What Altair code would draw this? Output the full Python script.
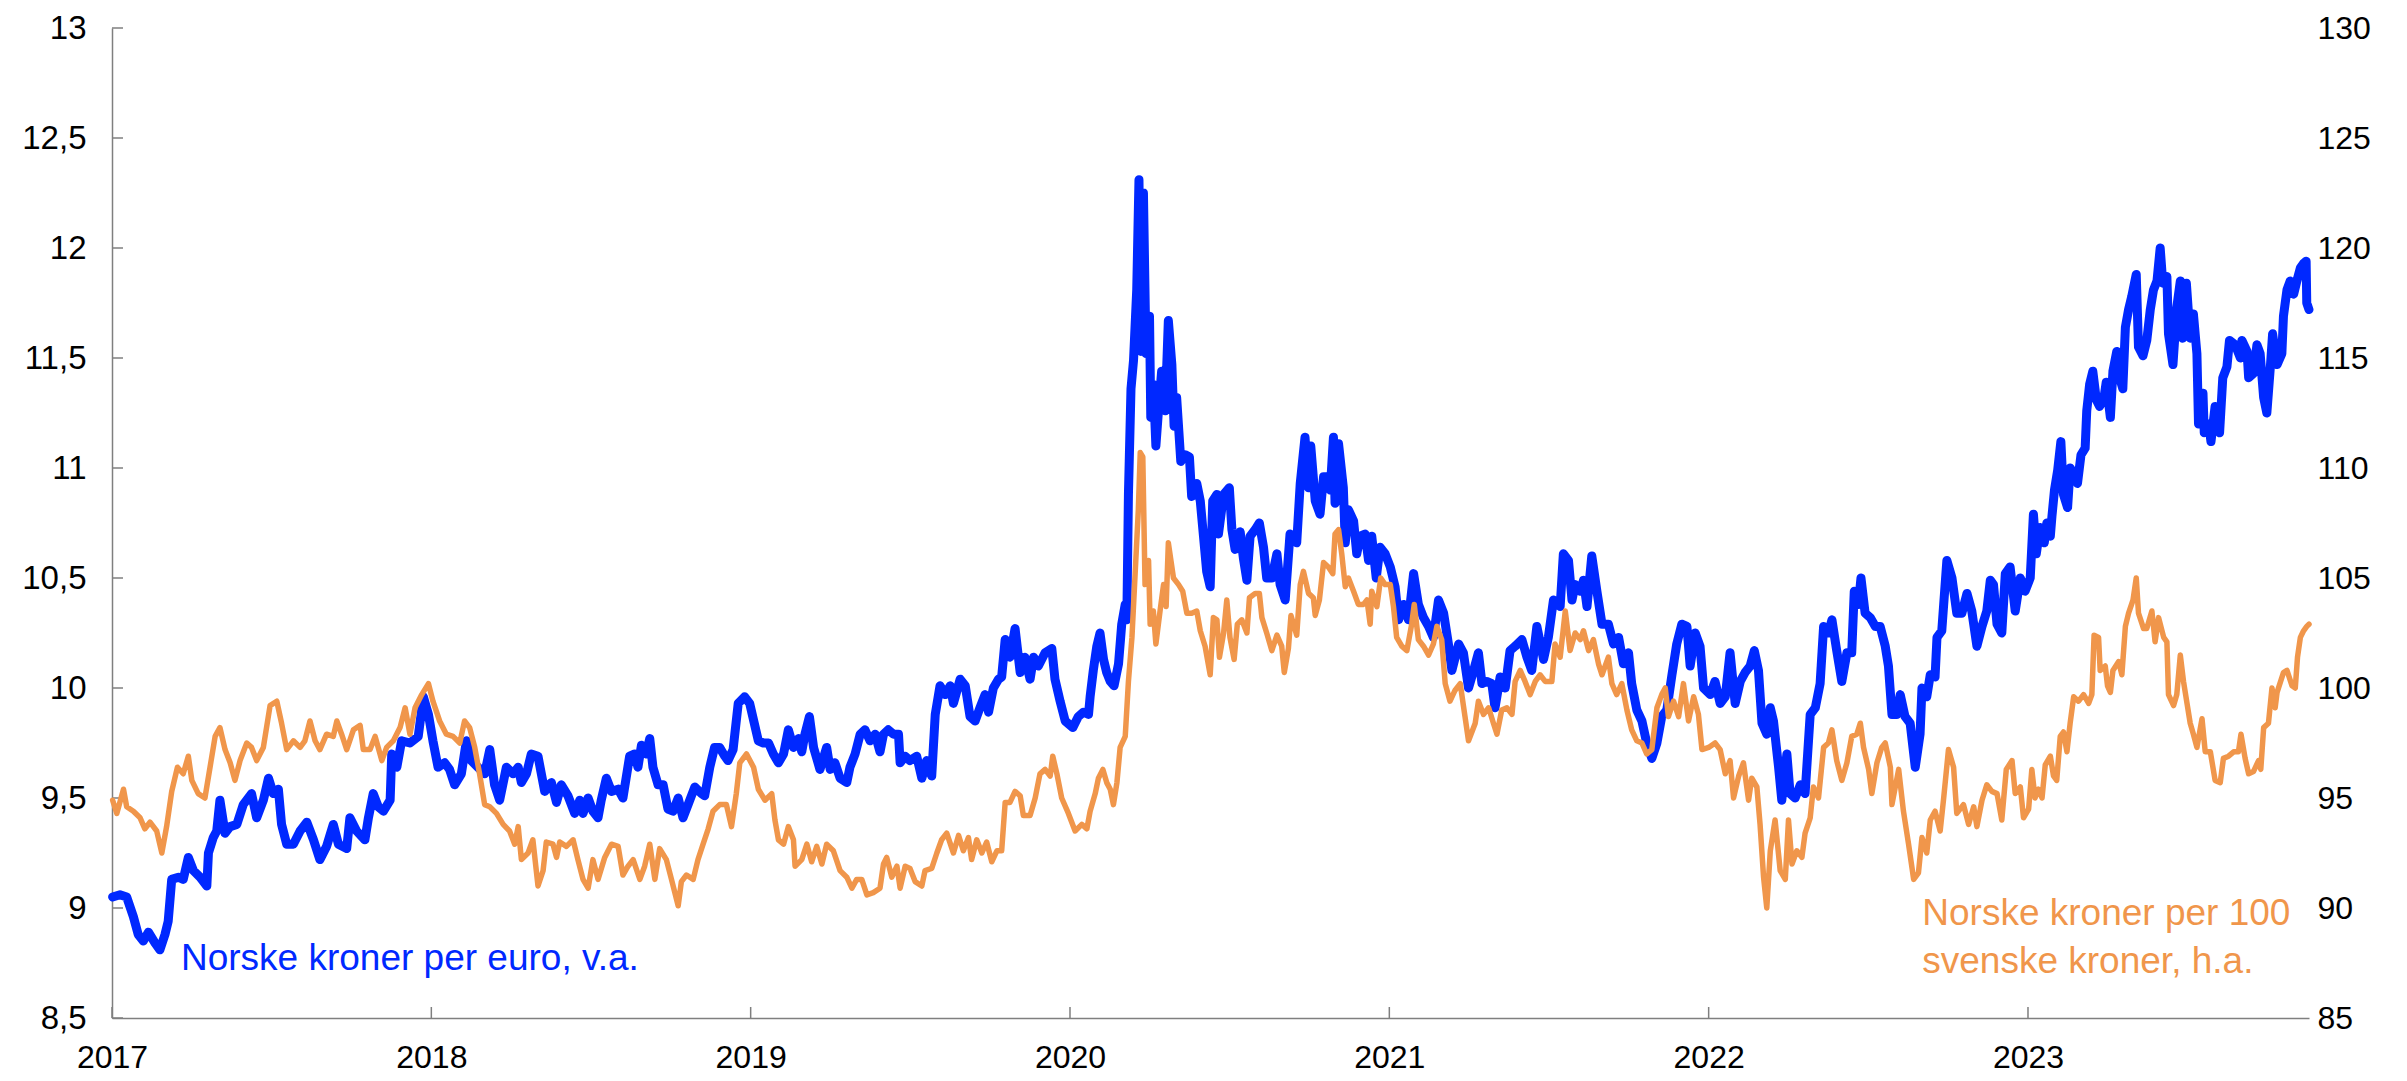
import altair as alt
import pandas as pd

# Norske kroner per euro (venstre akse) - decimal year / value
eur_t = [2017.002, 2017.025, 2017.046, 2017.067, 2017.082, 2017.098, 2017.114, 2017.135, 2017.150, 2017.166, 2017.176, 2017.187, 2017.208, 2017.223, 2017.239, 2017.255, 2017.276, 2017.297, 2017.302, 2017.317, 2017.328, 2017.338, 2017.354, 2017.370, 2017.391, 2017.411, 2017.437, 2017.453, 2017.474, 2017.490, 2017.505, 2017.521, 2017.531, 2017.547, 2017.568, 2017.589, 2017.610, 2017.631, 2017.651, 2017.672, 2017.693, 2017.709, 2017.735, 2017.745, 2017.766, 2017.792, 2017.803, 2017.818, 2017.834, 2017.850, 2017.871, 2017.876, 2017.892, 2017.907, 2017.933, 2017.959, 2017.975, 2017.991,
         2018.005, 2018.021, 2018.042, 2018.057, 2018.073, 2018.094, 2018.110, 2018.125, 2018.146, 2018.167, 2018.183, 2018.198, 2018.214, 2018.235, 2018.256, 2018.272, 2018.282, 2018.298, 2018.313, 2018.334, 2018.355, 2018.376, 2018.392, 2018.407, 2018.428, 2018.449, 2018.465, 2018.475, 2018.491, 2018.506, 2018.522, 2018.532, 2018.548, 2018.564, 2018.585, 2018.600, 2018.621, 2018.637, 2018.647, 2018.658, 2018.673, 2018.684, 2018.694, 2018.710, 2018.726, 2018.741, 2018.757, 2018.773, 2018.788, 2018.804, 2018.825, 2018.846, 2018.856, 2018.872, 2018.887, 2018.903, 2018.919, 2018.929, 2018.945, 2018.961, 2018.981, 2018.997,
         2019.024, 2019.040, 2019.056, 2019.071, 2019.087, 2019.103, 2019.118, 2019.134, 2019.150, 2019.160, 2019.170, 2019.184, 2019.197, 2019.217, 2019.238, 2019.249, 2019.264, 2019.280, 2019.301, 2019.311, 2019.327, 2019.343, 2019.358, 2019.374, 2019.390, 2019.405, 2019.416, 2019.431, 2019.447, 2019.463, 2019.468, 2019.484, 2019.499, 2019.520, 2019.536, 2019.551, 2019.567, 2019.578, 2019.593, 2019.609, 2019.625, 2019.635, 2019.656, 2019.672, 2019.687, 2019.703, 2019.718, 2019.734, 2019.745, 2019.760, 2019.776, 2019.786, 2019.797, 2019.812, 2019.828, 2019.844, 2019.859, 2019.875, 2019.886, 2019.901, 2019.922, 2019.943, 2019.953, 2019.969, 2019.985,
         2020.009, 2020.026, 2020.042, 2020.058, 2020.063, 2020.073, 2020.084, 2020.094, 2020.105, 2020.115, 2020.126, 2020.138, 2020.152, 2020.162, 2020.173, 2020.178, 2020.183, 2020.191, 2020.199, 2020.209, 2020.216, 2020.222, 2020.230, 2020.238, 2020.249, 2020.253, 2020.261, 2020.269, 2020.277, 2020.287, 2020.298, 2020.308, 2020.319, 2020.326, 2020.334, 2020.347, 2020.361, 2020.374, 2020.381, 2020.397, 2020.408, 2020.418, 2020.428, 2020.439, 2020.447, 2020.460, 2020.465, 2020.481, 2020.499, 2020.507, 2020.517, 2020.533, 2020.543, 2020.554, 2020.564, 2020.580, 2020.593, 2020.606, 2020.616, 2020.632, 2020.648, 2020.658, 2020.674, 2020.689, 2020.710, 2020.721, 2020.736, 2020.747, 2020.754, 2020.768, 2020.783, 2020.794, 2020.804, 2020.815, 2020.825, 2020.830, 2020.841, 2020.856, 2020.862, 2020.872, 2020.888, 2020.898, 2020.909, 2020.924, 2020.935, 2020.945, 2020.959, 2020.971, 2020.987, 2021.003,
         2021.018, 2021.029, 2021.044, 2021.060, 2021.076, 2021.091, 2021.107, 2021.123, 2021.138, 2021.154, 2021.170, 2021.185, 2021.196, 2021.217, 2021.232, 2021.248, 2021.264, 2021.279, 2021.290, 2021.305, 2021.321, 2021.331, 2021.347, 2021.363, 2021.378, 2021.394, 2021.415, 2021.431, 2021.446, 2021.462, 2021.483, 2021.498, 2021.514, 2021.535, 2021.545, 2021.561, 2021.572, 2021.582, 2021.598, 2021.608, 2021.619, 2021.634, 2021.650, 2021.666, 2021.686, 2021.702, 2021.718, 2021.733, 2021.749, 2021.759, 2021.775, 2021.791, 2021.806, 2021.822, 2021.838, 2021.853, 2021.869, 2021.885, 2021.900, 2021.916, 2021.932, 2021.942, 2021.958, 2021.973, 2021.984, 2022.005,
         2022.020, 2022.036, 2022.052, 2022.067, 2022.083, 2022.099, 2022.114, 2022.130, 2022.143, 2022.156, 2022.167, 2022.182, 2022.193, 2022.203, 2022.219, 2022.229, 2022.245, 2022.255, 2022.271, 2022.287, 2022.302, 2022.318, 2022.334, 2022.349, 2022.360, 2022.375, 2022.386, 2022.401, 2022.417, 2022.433, 2022.448, 2022.456, 2022.469, 2022.477, 2022.490, 2022.506, 2022.522, 2022.537, 2022.553, 2022.563, 2022.574, 2022.589, 2022.600, 2022.615, 2022.631, 2022.647, 2022.662, 2022.668, 2022.683, 2022.694, 2022.709, 2022.715, 2022.730, 2022.746, 2022.762, 2022.777, 2022.793, 2022.809, 2022.824, 2022.840, 2022.856, 2022.871, 2022.882, 2022.892, 2022.903, 2022.918, 2022.929, 2022.944, 2022.960, 2022.976, 2022.991, 2023.007, 2023.017,
         2023.026, 2023.038, 2023.051, 2023.059, 2023.070, 2023.075, 2023.083, 2023.093, 2023.103, 2023.111, 2023.124, 2023.132, 2023.145, 2023.155, 2023.166, 2023.179, 2023.184, 2023.193, 2023.203, 2023.214, 2023.224, 2023.237, 2023.245, 2023.258, 2023.266, 2023.278, 2023.289, 2023.297, 2023.305, 2023.315, 2023.325, 2023.339, 2023.346, 2023.360, 2023.372, 2023.383, 2023.393, 2023.404, 2023.414, 2023.422, 2023.435, 2023.440, 2023.454, 2023.466, 2023.477, 2023.484, 2023.496, 2023.508, 2023.518, 2023.529, 2023.534, 2023.548, 2023.552, 2023.566, 2023.573, 2023.586, 2023.600, 2023.610, 2023.623, 2023.631, 2023.649, 2023.665, 2023.670, 2023.686, 2023.691, 2023.706, 2023.717, 2023.727, 2023.738, 2023.748, 2023.759, 2023.766, 2023.780, 2023.795, 2023.800, 2023.811, 2023.821, 2023.832, 2023.842, 2023.853, 2023.863, 2023.871, 2023.873, 2023.880]
eur_v = [9.05, 9.06, 9.05, 8.96, 8.88, 8.85, 8.89, 8.84, 8.81, 8.88, 8.94, 9.13, 9.14, 9.13, 9.23, 9.17, 9.14, 9.10, 9.25, 9.32, 9.35, 9.49, 9.34, 9.37, 9.38, 9.47, 9.52, 9.41, 9.49, 9.59, 9.52, 9.54, 9.38, 9.29, 9.29, 9.35, 9.39, 9.31, 9.22, 9.28, 9.38, 9.29, 9.27, 9.41, 9.35, 9.31, 9.41, 9.52, 9.46, 9.44, 9.49, 9.70, 9.64, 9.76, 9.75, 9.78, 9.96, 9.88,
         9.76, 9.64, 9.66, 9.63, 9.56, 9.61, 9.76, 9.67, 9.64, 9.61, 9.72, 9.56, 9.49, 9.64, 9.61, 9.64, 9.57, 9.61, 9.70, 9.69, 9.53, 9.57, 9.48, 9.56, 9.51, 9.43, 9.49, 9.43, 9.50, 9.44, 9.41, 9.49, 9.59, 9.53, 9.54, 9.50, 9.69, 9.70, 9.64, 9.74, 9.70, 9.77, 9.64, 9.56, 9.56, 9.45, 9.44, 9.50, 9.41, 9.47, 9.55, 9.52, 9.51, 9.64, 9.73, 9.73, 9.69, 9.67, 9.72, 9.93, 9.96, 9.93,
         9.76, 9.75, 9.75, 9.70, 9.66, 9.70, 9.81, 9.73, 9.77, 9.71, 9.79, 9.87, 9.73, 9.63, 9.73, 9.63, 9.66, 9.59, 9.57, 9.64, 9.70, 9.79, 9.81, 9.76, 9.79, 9.71, 9.79, 9.81, 9.79, 9.79, 9.66, 9.69, 9.67, 9.69, 9.59, 9.67, 9.60, 9.88, 10.01, 9.97, 10.01, 9.93, 10.04, 10.01, 9.87, 9.85, 9.91, 9.97, 9.89, 10.00, 10.04, 10.05, 10.22, 10.14, 10.27, 10.07, 10.14, 10.04, 10.14, 10.10, 10.16, 10.18, 10.04, 9.94, 9.85,
         9.82, 9.87, 9.89, 9.88, 9.96, 10.08, 10.19, 10.25, 10.13, 10.07, 10.03, 10.01, 10.11, 10.29, 10.38, 10.31, 10.88, 11.36, 11.49, 11.81, 12.31, 11.53, 12.25, 11.52, 11.69, 11.23, 11.38, 11.10, 11.26, 11.44, 11.26, 11.67, 11.47, 11.19, 11.32, 11.03, 11.06, 11.05, 10.87, 10.93, 10.85, 10.69, 10.53, 10.46, 10.85, 10.88, 10.70, 10.88, 10.91, 10.72, 10.63, 10.71, 10.59, 10.49, 10.69, 10.72, 10.75, 10.64, 10.50, 10.50, 10.61, 10.47, 10.40, 10.70, 10.66, 10.93, 11.14, 10.91, 11.10, 10.85, 10.79, 10.96, 10.96, 10.90, 11.14, 10.84, 11.11, 10.91, 10.66, 10.81, 10.76, 10.61, 10.69, 10.70, 10.58, 10.69, 10.50, 10.64, 10.61, 10.55,
         10.46, 10.31, 10.38, 10.31, 10.52, 10.38, 10.32, 10.28, 10.23, 10.40, 10.34, 10.20, 10.08, 10.20, 10.16, 10.00, 10.08, 10.16, 10.02, 10.03, 10.02, 9.91, 10.05, 10.00, 10.17, 10.19, 10.22, 10.14, 10.08, 10.28, 10.13, 10.23, 10.40, 10.37, 10.61, 10.58, 10.40, 10.47, 10.44, 10.49, 10.37, 10.60, 10.44, 10.29, 10.29, 10.20, 10.23, 10.11, 10.16, 10.02, 9.90, 9.85, 9.75, 9.68, 9.75, 9.87, 9.90, 10.06, 10.20, 10.29, 10.28, 10.10, 10.25, 10.19, 10.00, 9.97,
         10.03, 9.93, 9.96, 10.16, 9.93, 10.03, 10.07, 10.10, 10.17, 10.08, 9.84, 9.79, 9.91, 9.85, 9.64, 9.49, 9.70, 9.52, 9.50, 9.56, 9.52, 9.88, 9.91, 10.02, 10.28, 10.25, 10.31, 10.17, 10.03, 10.16, 10.16, 10.44, 10.38, 10.50, 10.34, 10.32, 10.28, 10.28, 10.19, 10.10, 9.88, 9.88, 9.97, 9.87, 9.84, 9.64, 9.79, 10.00, 9.96, 10.06, 10.05, 10.23, 10.26, 10.58, 10.50, 10.34, 10.34, 10.43, 10.35, 10.19, 10.28, 10.35, 10.49, 10.47, 10.29, 10.25, 10.52, 10.55, 10.35, 10.50, 10.44, 10.50, 10.79,
         10.61, 10.73, 10.66, 10.75, 10.69, 10.78, 10.90, 10.99, 11.12, 10.88, 10.82, 11.00, 10.97, 10.93, 11.06, 11.09, 11.26, 11.38, 11.44, 11.31, 11.28, 11.31, 11.39, 11.23, 11.44, 11.53, 11.40, 11.36, 11.64, 11.72, 11.78, 11.88, 11.55, 11.51, 11.58, 11.72, 11.81, 11.85, 12.00, 11.84, 11.87, 11.61, 11.47, 11.73, 11.85, 11.59, 11.84, 11.59, 11.70, 11.52, 11.20, 11.34, 11.16, 11.20, 11.12, 11.28, 11.16, 11.41, 11.46, 11.58, 11.56, 11.50, 11.58, 11.53, 11.41, 11.43, 11.56, 11.52, 11.32, 11.25, 11.46, 11.61, 11.47, 11.52, 11.69, 11.81, 11.85, 11.79, 11.85, 11.91, 11.93, 11.94, 11.75, 11.72]

# Norske kroner per 100 svenske kroner (hoyre akse)
sek_t = [2017.002, 2017.015, 2017.036, 2017.046, 2017.067, 2017.088, 2017.103, 2017.119, 2017.140, 2017.156, 2017.171, 2017.187, 2017.205, 2017.223, 2017.239, 2017.250, 2017.270, 2017.291, 2017.307, 2017.323, 2017.338, 2017.354, 2017.370, 2017.385, 2017.401, 2017.422, 2017.437, 2017.453, 2017.474, 2017.495, 2017.516, 2017.531, 2017.547, 2017.568, 2017.589, 2017.604, 2017.620, 2017.636, 2017.651, 2017.672, 2017.693, 2017.704, 2017.719, 2017.735, 2017.756, 2017.777, 2017.787, 2017.808, 2017.824, 2017.845, 2017.860, 2017.881, 2017.902, 2017.918, 2017.933, 2017.949, 2017.970, 2017.991,
         2018.005, 2018.026, 2018.047, 2018.068, 2018.089, 2018.104, 2018.120, 2018.136, 2018.151, 2018.167, 2018.183, 2018.204, 2018.225, 2018.245, 2018.261, 2018.272, 2018.282, 2018.303, 2018.318, 2018.334, 2018.350, 2018.360, 2018.381, 2018.392, 2018.402, 2018.423, 2018.444, 2018.459, 2018.475, 2018.491, 2018.506, 2018.522, 2018.543, 2018.564, 2018.585, 2018.600, 2018.616, 2018.632, 2018.653, 2018.668, 2018.684, 2018.700, 2018.715, 2018.736, 2018.752, 2018.773, 2018.783, 2018.799, 2018.820, 2018.835, 2018.851, 2018.867, 2018.882, 2018.903, 2018.924, 2018.940, 2018.955, 2018.966, 2018.987,
         2019.009, 2019.024, 2019.045, 2019.066, 2019.076, 2019.087, 2019.103, 2019.118, 2019.134, 2019.139, 2019.160, 2019.176, 2019.191, 2019.207, 2019.223, 2019.238, 2019.259, 2019.280, 2019.301, 2019.317, 2019.332, 2019.348, 2019.364, 2019.384, 2019.405, 2019.416, 2019.426, 2019.442, 2019.458, 2019.468, 2019.484, 2019.499, 2019.515, 2019.536, 2019.546, 2019.567, 2019.583, 2019.598, 2019.614, 2019.635, 2019.651, 2019.666, 2019.682, 2019.692, 2019.708, 2019.724, 2019.739, 2019.755, 2019.771, 2019.786, 2019.797, 2019.812, 2019.828, 2019.844, 2019.854, 2019.875, 2019.891, 2019.906, 2019.922, 2019.938, 2019.946, 2019.959, 2019.974, 2019.995,
         2020.016, 2020.037, 2020.053, 2020.063, 2020.079, 2020.089, 2020.103, 2020.115, 2020.126, 2020.136, 2020.147, 2020.157, 2020.173, 2020.183, 2020.194, 2020.204, 2020.214, 2020.220, 2020.228, 2020.235, 2020.246, 2020.251, 2020.261, 2020.269, 2020.282, 2020.293, 2020.301, 2020.308, 2020.324, 2020.340, 2020.353, 2020.366, 2020.381, 2020.397, 2020.408, 2020.423, 2020.439, 2020.449, 2020.460, 2020.468, 2020.481, 2020.491, 2020.501, 2020.514, 2020.524, 2020.538, 2020.554, 2020.562, 2020.580, 2020.593, 2020.601, 2020.616, 2020.632, 2020.648, 2020.663, 2020.671, 2020.684, 2020.692, 2020.710, 2020.721, 2020.731, 2020.747, 2020.762, 2020.768, 2020.781, 2020.794, 2020.809, 2020.823, 2020.830, 2020.841, 2020.851, 2020.862, 2020.872, 2020.888, 2020.903, 2020.919, 2020.930, 2020.940, 2020.945, 2020.961, 2020.973, 2020.987, 2021.003,
         2021.013, 2021.023, 2021.039, 2021.055, 2021.070, 2021.078, 2021.091, 2021.107, 2021.123, 2021.138, 2021.149, 2021.164, 2021.175, 2021.190, 2021.206, 2021.222, 2021.237, 2021.248, 2021.269, 2021.279, 2021.295, 2021.311, 2021.326, 2021.337, 2021.352, 2021.368, 2021.384, 2021.394, 2021.410, 2021.425, 2021.441, 2021.457, 2021.472, 2021.488, 2021.509, 2021.519, 2021.535, 2021.551, 2021.566, 2021.582, 2021.598, 2021.608, 2021.624, 2021.639, 2021.655, 2021.666, 2021.686, 2021.697, 2021.712, 2021.728, 2021.744, 2021.759, 2021.775, 2021.791, 2021.806, 2021.822, 2021.838, 2021.853, 2021.864, 2021.874, 2021.890, 2021.906, 2021.921, 2021.937, 2021.953, 2021.968, 2021.979, 2022.000,
         2022.020, 2022.036, 2022.052, 2022.067, 2022.078, 2022.094, 2022.109, 2022.125, 2022.135, 2022.151, 2022.161, 2022.172, 2022.182, 2022.193, 2022.208, 2022.224, 2022.240, 2022.250, 2022.261, 2022.276, 2022.292, 2022.302, 2022.318, 2022.328, 2022.344, 2022.360, 2022.375, 2022.386, 2022.401, 2022.417, 2022.433, 2022.448, 2022.464, 2022.475, 2022.485, 2022.501, 2022.511, 2022.527, 2022.542, 2022.553, 2022.569, 2022.574, 2022.595, 2022.610, 2022.626, 2022.642, 2022.657, 2022.668, 2022.683, 2022.694, 2022.709, 2022.725, 2022.736, 2022.751, 2022.767, 2022.777, 2022.798, 2022.814, 2022.830, 2022.840, 2022.856, 2022.871, 2022.887, 2022.903, 2022.918, 2022.932, 2022.950, 2022.960, 2022.976, 2022.986, 2023.002,
         2023.012, 2023.022, 2023.033, 2023.044, 2023.054, 2023.070, 2023.080, 2023.090, 2023.101, 2023.111, 2023.122, 2023.132, 2023.143, 2023.158, 2023.174, 2023.190, 2023.200, 2023.207, 2023.221, 2023.226, 2023.242, 2023.249, 2023.258, 2023.266, 2023.284, 2023.294, 2023.305, 2023.315, 2023.329, 2023.339, 2023.346, 2023.362, 2023.372, 2023.388, 2023.398, 2023.409, 2023.425, 2023.435, 2023.440, 2023.456, 2023.466, 2023.477, 2023.487, 2023.498, 2023.508, 2023.518, 2023.529, 2023.545, 2023.555, 2023.571, 2023.586, 2023.602, 2023.612, 2023.628, 2023.644, 2023.659, 2023.667, 2023.680, 2023.691, 2023.706, 2023.722, 2023.729, 2023.738, 2023.753, 2023.764, 2023.774, 2023.780, 2023.800, 2023.811, 2023.827, 2023.837, 2023.844, 2023.853, 2023.863, 2023.873, 2023.880]
sek_v = [94.9, 94.3, 95.4, 94.6, 94.4, 94.1, 93.6, 93.9, 93.5, 92.5, 93.7, 95.3, 96.4, 96.1, 96.9, 95.8, 95.2, 95.0, 96.4, 97.8, 98.2, 97.2, 96.6, 95.8, 96.7, 97.5, 97.3, 96.7, 97.3, 99.2, 99.4, 98.4, 97.2, 97.6, 97.3, 97.6, 98.5, 97.6, 97.2, 97.9, 97.8, 98.5, 97.9, 97.2, 98.1, 98.3, 97.2, 97.2, 97.8, 96.7, 97.3, 97.6, 98.2, 99.1, 97.9, 99.1, 99.7, 100.2,
         99.4, 98.5, 97.9, 97.8, 97.5, 98.5, 98.2, 97.3, 96.1, 94.7, 94.6, 94.3, 93.8, 93.5, 92.9, 93.7, 92.2, 92.5, 93.1, 91.0, 91.7, 93.0, 92.9, 92.3, 93.0, 92.8, 93.1, 92.2, 91.3, 90.9, 92.2, 91.3, 92.3, 92.9, 92.8, 91.5, 91.9, 92.2, 91.3, 91.9, 92.9, 91.3, 92.7, 92.2, 91.3, 90.1, 91.2, 91.5, 91.3, 92.2, 92.9, 93.6, 94.4, 94.7, 94.7, 93.7, 95.2, 96.6, 97.0,
         96.4, 95.4, 94.9, 95.2, 94.0, 93.1, 92.9, 93.7, 93.1, 91.9, 92.2, 92.9, 92.1, 92.8, 92.0, 92.9, 92.6, 91.7, 91.4, 90.9, 91.3, 91.3, 90.6, 90.7, 90.9, 92.0, 92.3, 91.4, 91.9, 90.9, 91.9, 91.8, 91.2, 91.0, 91.7, 91.8, 92.5, 93.1, 93.4, 92.5, 93.3, 92.6, 93.2, 92.2, 93.1, 92.5, 93.0, 92.1, 92.6, 92.6, 94.8, 94.8, 95.3, 95.1, 94.2, 94.2, 95.0, 96.1, 96.3, 96.0, 96.9, 96.1, 95.0, 94.3,
         93.5, 93.8, 93.6, 94.4, 95.2, 95.9, 96.3, 95.7, 95.4, 94.7, 95.7, 97.3, 97.8, 100.3, 102.3, 105.2, 108.1, 110.7, 110.5, 104.7, 105.8, 102.9, 103.5, 102.0, 103.5, 104.7, 103.7, 106.6, 105.0, 104.7, 104.4, 103.4, 103.4, 103.5, 102.6, 101.9, 100.6, 103.2, 103.1, 101.4, 102.5, 104.0, 102.3, 101.3, 102.9, 103.1, 102.5, 104.1, 104.3, 104.3, 103.2, 102.5, 101.7, 102.4, 101.9, 100.7, 101.8, 103.3, 102.4, 104.7, 105.3, 104.3, 104.1, 103.3, 104.0, 105.7, 105.5, 105.2, 107.0, 107.2, 106.1, 104.6, 105.0, 104.4, 103.8, 103.8, 104.0, 102.9, 104.4, 103.7, 105.0, 104.7, 104.7,
         103.7, 102.3, 101.9, 101.7, 102.9, 103.8, 102.2, 101.9, 101.5, 102.0, 102.8, 102.2, 100.2, 99.4, 99.9, 100.2, 98.7, 97.6, 98.4, 99.4, 98.8, 99.1, 98.4, 97.9, 99.0, 99.1, 98.8, 100.3, 100.8, 100.3, 99.7, 100.3, 100.6, 100.3, 100.3, 102.0, 101.4, 103.5, 101.7, 102.5, 102.2, 102.6, 101.7, 102.2, 101.1, 100.6, 101.4, 100.2, 99.7, 100.2, 99.0, 98.1, 97.6, 97.5, 97.0, 97.2, 99.1, 99.7, 100.0, 98.7, 99.4, 98.7, 100.2, 98.5, 99.6, 98.8, 97.2, 97.3,
         97.5, 97.2, 96.1, 96.7, 95.0, 96.0, 96.6, 94.9, 95.9, 95.5, 93.8, 91.4, 90.0, 92.6, 94.0, 91.7, 91.3, 94.0, 92.0, 92.6, 92.3, 93.4, 94.1, 95.5, 95.0, 97.3, 97.5, 98.1, 96.7, 95.8, 96.6, 97.8, 97.9, 98.4, 97.3, 96.3, 95.2, 96.6, 97.3, 97.5, 96.4, 94.7, 96.3, 94.4, 92.9, 91.3, 91.6, 93.2, 92.5, 94.0, 94.4, 93.5, 95.0, 97.2, 96.4, 94.3, 94.7, 93.8, 94.6, 93.7, 94.9, 95.6, 95.3, 95.2, 94.0, 96.3, 96.7, 95.2, 95.5, 94.1, 94.5,
         96.3, 95.0, 95.4, 95.0, 96.5, 96.9, 96.0, 95.8, 97.8, 98.0, 97.1, 98.4, 99.6, 99.4, 99.7, 99.3, 99.7, 102.4, 102.3, 100.8, 101.0, 100.1, 99.8, 100.8, 101.2, 100.6, 102.8, 103.4, 104.0, 105.0, 103.4, 102.7, 102.7, 103.5, 102.1, 103.2, 102.3, 102.1, 99.7, 99.2, 99.7, 101.5, 100.3, 99.3, 98.4, 97.9, 97.3, 98.6, 97.1, 97.1, 95.8, 95.7, 96.8, 96.9, 97.1, 97.1, 97.9, 96.8, 96.1, 96.2, 96.7, 96.3, 98.2, 98.4, 100.0, 99.1, 99.8, 100.7, 100.8, 100.1, 100.0, 101.4, 102.3, 102.6, 102.8, 102.9]

year_ticks = [2017, 2018, 2019, 2020, 2021, 2022, 2023]
left_ticks = [8.5, 9.0, 9.5, 10.0, 10.5, 11.0, 11.5, 12.0, 12.5, 13.0]
right_ticks = [85, 90, 95, 100, 105, 110, 115, 120, 125, 130]

eur_label = "Norske kroner per euro, v.a."
sek_label = ["Norske kroner per 100", "svenske kroner, h.a."]

BLUE = "#0028FF"
ORANGE = "#F0964B"
AXIS_GREY = "#7F7F7F"
FONT = "Liberation Sans"
W, H = 2197, 990

eur_df = pd.DataFrame({"t": eur_t, "v": eur_v})
sek_df = pd.DataFrame({"t": sek_t, "w": sek_v})
lt_df = pd.DataFrame({"v": left_ticks})
yt_df = pd.DataFrame({"t": year_ticks})

x_enc = alt.X(
    "t:Q",
    scale=alt.Scale(domain=[2017, 2023.88], nice=False, zero=False),
    axis=alt.Axis(values=year_ticks, format="d", title=None, ticks=False, grid=False,
                  domainColor=AXIS_GREY, domainWidth=1.5, labelFont=FONT, labelFontSize=32,
                  labelColor="black", labelPadding=24, labelFlush=False, labelOverlap=False),
)
y_left = alt.Y(
    "v:Q",
    scale=alt.Scale(domain=[8.5, 13], nice=False, zero=False),
    axis=alt.Axis(values=left_ticks, labelExpr="replace(format(datum.value, '~g'), '.', ',')",
                  title=None, ticks=False, grid=False, domainColor=AXIS_GREY, domainWidth=1.5,
                  labelFont=FONT, labelFontSize=33, labelColor="black", labelPadding=26,
                  labelFlush=False, orient="left"),
)
y_right = alt.Y(
    "w:Q",
    scale=alt.Scale(domain=[85, 130], nice=False, zero=False),
    axis=alt.Axis(values=right_ticks, format="d", title=None, ticks=False, grid=False,
                  domain=False, labelFont=FONT, labelFontSize=32, labelColor="black",
                  labelPadding=8, labelFlush=False, orient="right"),
)

eur_line = alt.Chart(eur_df).mark_line(
    color=BLUE, strokeWidth=9, strokeJoin="round", strokeCap="round"
).encode(x=x_enc, y=y_left)

ytick_rules = alt.Chart(lt_df).mark_rule(color=AXIS_GREY, strokeWidth=1.5).encode(
    y=y_left, x=alt.value(0), x2=alt.value(11)
)
xtick_rules = alt.Chart(yt_df).mark_rule(color=AXIS_GREY, strokeWidth=1.5).encode(
    x=x_enc, y=alt.value(H), y2=alt.value(H - 11)
)

eur_text = alt.Chart(pd.DataFrame({"t": [2017.216], "v": [8.72]})).mark_text(
    text=eur_label, color=BLUE, font=FONT, fontSize=37, align="left", baseline="alphabetic"
).encode(x=x_enc, y=y_left)

left = alt.layer(eur_line, ytick_rules, xtick_rules, eur_text)

sek_line = alt.Chart(sek_df).mark_line(
    color=ORANGE, strokeWidth=5.5, strokeJoin="round", strokeCap="round"
).encode(x=x_enc, y=y_right)

sek_text = alt.Chart(pd.DataFrame({"t": [2022.669], "w": [89.25]})).mark_text(
    text=sek_label, color=ORANGE, font=FONT, fontSize=37, align="left",
    baseline="alphabetic", lineHeight=48
).encode(x=x_enc, y=y_right)

right = alt.layer(sek_line, sek_text)

chart = alt.layer(left, right).resolve_scale(y="independent").properties(
    width=W, height=H,
    padding={"left": 104, "top": 20, "right": 85, "bottom": 55},
    autosize=alt.AutoSizeParams(type="none"),
    background="white",
).configure_view(stroke=None)

chart.save("out.html", embed_options={"renderer": "svg", "actions": False})
